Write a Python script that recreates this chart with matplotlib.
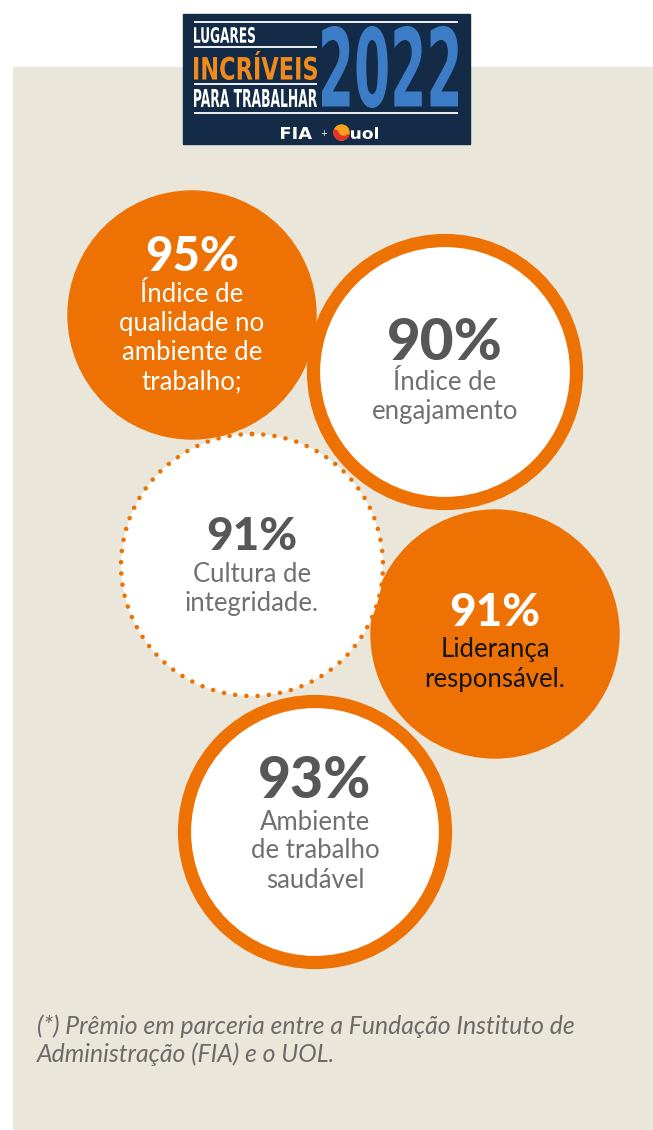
import numpy as np
import matplotlib
matplotlib.use("Agg")
import matplotlib.pyplot as plt
from matplotlib.patches import Circle, Rectangle, Wedge, PathPatch
from matplotlib.textpath import TextPath
from matplotlib.font_manager import FontProperties
from matplotlib.transforms import Affine2D

# ---- data ----
values = [95, 90, 91, 91, 93]
labels = [
    ["Índice de", "qualidade no", "ambiente de", "trabalho;"],
    ["Índice de", "engajamento"],
    ["Cultura de", "integridade."],
    ["Liderança", "responsável."],
    ["Ambiente", "de trabalho", "saudável"],
]
footer = ["(*) Prêmio em parceria entre a Fundação Instituto de",
          "Administração (FIA) e o UOL."]

# ---- layout (pixels, y down) ----
centers = [(192, 315), (445, 372), (252, 565), (495, 634), (315, 832)]
radii = [124, 138, 133, 124, 137]
kinds = ["fill", "ring", "dots", "fill", "ring"]
pct_y = [257, 343, 537, 613, 782]
lab_y0 = [295, 383, 575, 650, 822]
pct_size = [34, 42, 33, 33, 41]

ORANGE = "#EE7203"
BEIGE = "#EAE6D9"
NAVY = "#132B46"
BLUE = "#3D7DC8"

W, H = 653, 1130
fig = plt.figure(figsize=(W / 100, H / 100), dpi=100)
ax = fig.add_axes([0, 0, 1, 1])
ax.set_xlim(0, W)
ax.set_ylim(H, 0)
ax.axis("off")

# beige panel
ax.add_patch(Rectangle((13, 67), W - 13, H - 67, color=BEIGE, zorder=0))


def fit_text(s, x0, x1, y0, y1, color, weight="bold", z=6):
    fp = FontProperties(family="DejaVu Sans", weight=weight)
    tp = TextPath((0, 0), s, prop=fp, size=10)
    ext = tp.get_extents()
    sx = (x1 - x0) / ext.width
    sy = (y1 - y0) / ext.height
    tr = Affine2D().translate(-ext.x0, -ext.y0).scale(sx, -sy).translate(x0, y1)
    ax.add_patch(PathPatch(tr.transform_path(tp), fc=color, ec="none", zorder=z))


# logo
ax.add_patch(Rectangle((183, 14), 287, 130, color=NAVY, zorder=5))
for yy, xa, xb in [(22, 194, 458), (47, 194, 317), (84, 194, 317), (113, 194, 458)]:
    ax.plot([xa, xb], [yy, yy], color="white", lw=1.3, zorder=6, solid_capstyle="butt")
fit_text("LUGARES", 194, 255, 27, 43, "white")
fit_text("INCRÍVEIS", 194, 317, 51, 80, "#F08A1C")
fit_text("PARA TRABALHAR", 194, 317, 89, 107, "white")
fit_text("2022", 322, 458, 26, 108, BLUE)
fit_text("FIA", 281, 312, 127, 139, "white")
ax.text(324, 133, "+", color="white", fontsize=6, ha="center", va="center", zorder=6)
ax.add_patch(Circle((341.5, 132.5), 7.5, color="#F7A21B", zorder=6))
ax.add_patch(Wedge((341.5, 132.5), 7.5, 20, 200, color="#E4322B", zorder=6))
ax.add_patch(Circle((343.5, 130.5), 4.5, color="#F7A21B", zorder=6))
fit_text("uol", 351, 378, 127, 139, "white")

# circles
for i in range(len(values)):
    (cx, cy), r, kind = centers[i], radii[i], kinds[i]
    if kind == "fill":
        ax.add_patch(Circle((cx, cy), r, color=ORANGE, zorder=2))
        pc, lc = "white", ("white" if i == 0 else "#141414")
    elif kind == "ring":
        ax.add_patch(Circle((cx, cy), r - 6.5, fc="white", ec=ORANGE, lw=9.5, zorder=2))
        pc, lc = "#575757", "#707070"
    else:
        c = Circle((cx, cy), r - 2, fc="white", ec=ORANGE, lw=3.3,
                   linestyle=(0, (0.01, 2.45)), zorder=3)
        c.set_capstyle("round")
        ax.add_patch(c)
        pc, lc = "#575757", "#707070"
    ax.text(cx, pct_y[i], f"{values[i]}%", color=pc, fontsize=pct_size[i],
            fontweight="black", family="Lato", ha="center", va="center", zorder=4)
    for k, line in enumerate(labels[i]):
        ax.text(cx, lab_y0[i] + 29 * k, line, color=lc, fontsize=18.5,
                family="Lato", ha="center", va="center", zorder=4)

# footer
for k, line in enumerate(footer):
    ax.text(37, 1026 + 28 * k, line, color="#6A6A6A", fontsize=17.8,
            family="Lato", style="italic", ha="left", va="center", zorder=4)

fig.savefig("out.png", dpi=100, facecolor="white")
